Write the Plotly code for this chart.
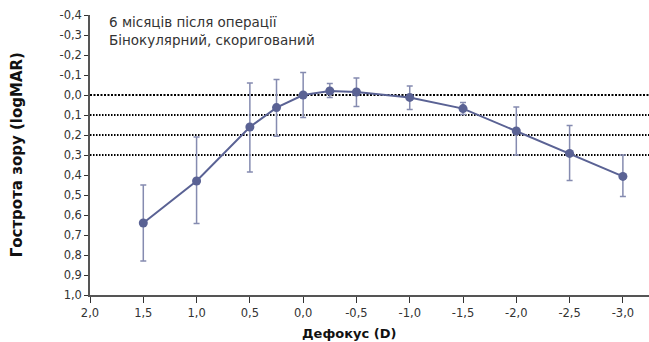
import plotly.graph_objects as go

defocus = [1.5, 1.0, 0.5, 0.25, 0.0, -0.25, -0.5, -1.0, -1.5, -2.0, -2.5, -3.0]
va = [0.64, 0.43, 0.16, 0.063, 0.0, -0.02, -0.015, 0.012, 0.068, 0.18, 0.292, 0.407]
err_lower_val = [0.83, 0.643, 0.385, 0.206, 0.113, 0.013, 0.057, 0.072, 0.098, 0.30, 0.428, 0.507]
err_upper_val = [0.45, 0.21, -0.06, -0.077, -0.112, -0.057, -0.085, -0.045, 0.038, 0.06, 0.153, 0.30]

x_ticks = [2.0, 1.5, 1.0, 0.5, 0.0, -0.5, -1.0, -1.5, -2.0, -2.5, -3.0]
x_ticklabels = ["2,0", "1,5", "1,0", "0,5", "0,0", "-0,5", "-1,0", "-1,5", "-2,0", "-2,5", "-3,0"]
y_ticks = [-0.4, -0.3, -0.2, -0.1, 0.0, 0.1, 0.2, 0.3, 0.4, 0.5, 0.6, 0.7, 0.8, 0.9, 1.0]
y_ticklabels = ["-0,4", "-0,3", "-0,2", "-0,1", "0,0", "0,1", "0,2", "0,3", "0,4", "0,5",
                "0,6", "0,7", "0,8", "0,9", "1,0"]
ref_lines = [0.0, 0.1, 0.2, 0.3]

err_plus = [lo - v for lo, v in zip(err_lower_val, va)]
err_minus = [v - up for up, v in zip(err_upper_val, va)]

color = "#5a6294"
font = "DejaVu Sans"

fig = go.Figure()
fig.add_trace(go.Scatter(
    x=defocus, y=va, mode="lines+markers",
    line=dict(color=color, width=2),
    marker=dict(color=color, size=9),
    error_y=dict(type="data", symmetric=False, array=err_plus, arrayminus=err_minus,
                 color="#858bb0", thickness=1.5, width=3),
    showlegend=False,
))

shapes = []
for i, v in enumerate(ref_lines):
    shapes.append(dict(type="line", xref="paper", x0=0, x1=1, yref="y", y0=v, y1=v,
                       line=dict(color="black", width=2,
                                 dash="2px,1.5px" if i == 0 else "1.5px,1.5px"),
                       layer="below"))

fig.update_layout(
    width=649, height=342,
    margin=dict(l=90, r=0, t=15, b=47),
    paper_bgcolor="white", plot_bgcolor="white",
    font=dict(family=font, color="#333333", size=11),
    shapes=shapes,
    xaxis=dict(range=[2.0, -3.245], tickvals=x_ticks, ticktext=x_ticklabels,
               showgrid=False, zeroline=False, showline=True, linecolor="#555555",
               linewidth=1.5, ticks="outside", ticklen=6, tickcolor="#333333",
               tickfont=dict(size=11.5, color="#333333")),
    yaxis=dict(range=[1.0, -0.4], tickvals=y_ticks, ticktext=y_ticklabels,
               showgrid=False, zeroline=False, showline=True, linecolor="#555555",
               linewidth=1.5, ticks="outside", ticklen=4, tickcolor="#333333",
               tickfont=dict(size=11.5, color="#333333")),
    annotations=[
        dict(text="6 місяців після операції<br>Бінокулярний, скоригований",
             xref="paper", yref="paper", x=0.03, y=1.01, xanchor="left", yanchor="top",
             align="left", showarrow=False, font=dict(size=13.5, color="#333333", family=font)),
        dict(text="<b>Гострота зору (logMAR)</b>", xref="paper", yref="paper",
             x=-0.13, y=0.5, xanchor="center", yanchor="middle", textangle=-90,
             showarrow=False, font=dict(size=15, color="#111111", family=font)),
        dict(text="<b>Дефокус (D)</b>", xref="paper", yref="paper",
             x=0.463, y=-0.105, xanchor="center", yanchor="top",
             showarrow=False, font=dict(size=13, color="#111111", family=font)),
    ],
)

fig.write_html("out.html", config={"displayModeBar": False},
               post_script="document.body.style.margin='0';document.body.style.overflow='hidden';")
